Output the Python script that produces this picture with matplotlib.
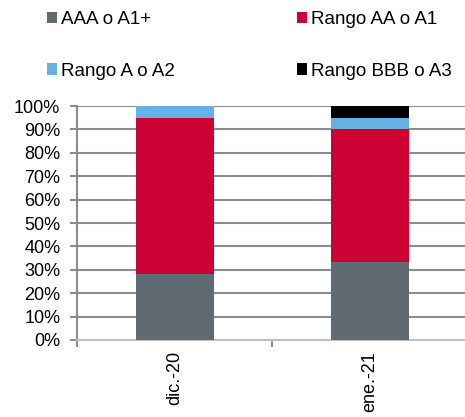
import numpy as np
import matplotlib.pyplot as plt

plt.rcParams['font.family'] = ['Liberation Sans', 'DejaVu Sans']

categories = ["dic.-20", "ene.-21"]
aaa = [28.2, 33.2]
aa = [66.8, 57.1]
a = [5.0, 4.7]
bbb = [0.0, 5.0]

series = [("AAA o A1+", aaa, "#5f6a72"),
          ("Rango AA o A1", aa, "#cc0033"),
          ("Rango A o A2", a, "#65b1e3"),
          ("Rango BBB o A3", bbb, "#000000")]

fig = plt.figure(figsize=(4.65, 4.17), dpi=100)
ax = fig.add_axes([77 / 465, 1 - 340 / 417, 390 / 465, 234 / 417])

x = np.arange(len(categories))
bottom = np.zeros(len(categories))
handles = []
for label, vals, color in series:
    b = ax.bar(x, vals, width=0.4, bottom=bottom, color=color, label=label, zorder=3)
    handles.append(b)
    bottom = bottom + np.array(vals)

ax.set_xlim(-0.5, 1.5)
ax.set_ylim(0, 100)
ax.set_yticks(np.arange(0, 101, 10))
ax.set_yticklabels([f"{v}%" for v in range(0, 101, 10)], fontsize=13)
ax.yaxis.grid(True, color="#8c8c8c", linewidth=1.5, zorder=0)
ax.tick_params(axis='y', length=5, color="#8c8c8c", width=1.5, pad=7)

ax.set_xticks(x)
ax.set_xticklabels(categories, rotation=90, fontsize=13, va='top')
ax.tick_params(axis='x', length=0, pad=8)
ax.set_xticks([-0.5, 0.5, 1.5], minor=True)
ax.tick_params(axis='x', which='minor', length=5, color="#8c8c8c", width=1.5)

for s in ["top", "right"]:
    ax.spines[s].set_visible(False)
for s in ["left", "bottom"]:
    ax.spines[s].set_color("#8c8c8c")
    ax.spines[s].set_linewidth(1.5)
ax.spines["bottom"].set_color("#bfbfbf")

# legend is filled column by column, so reorder for row-wise reading
order = [0, 2, 1, 3]
fig.legend(handles=[handles[i] for i in order], loc='upper left',
           bbox_to_anchor=(47 / 465, 1 - 11 / 417),
           ncol=2, frameon=False, fontsize=13.5, handlelength=0.55, handleheight=0.55,
           handletextpad=0.2, columnspacing=6.5, labelspacing=1.85,
           borderpad=0, borderaxespad=0)

fig.savefig("out.png", dpi=100)
